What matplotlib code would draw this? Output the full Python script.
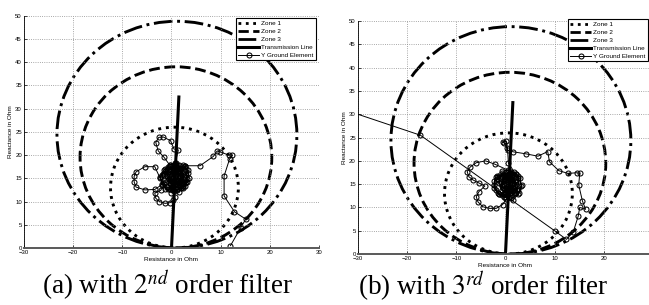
import matplotlib
matplotlib.use('Agg')
import matplotlib.pyplot as plt
from matplotlib.patches import Circle
from matplotlib.lines import Line2D

# mho zones (centre x, centre y, radius) in Ohm
zone_names = ['Zone 1', 'Zone 2', 'Zone 3']
zone_cx = [0.6, 0.9, 1.1]
zone_cy = [13.0, 19.5, 24.4]
zone_r = [13.0, 19.5, 24.4]
zone_ls = [':', '--', '-.']

# transmission line
line_r = [0.0, 1.5]
line_x = [0.0, 32.5]

# (a) 2nd order filter trajectory
traj_a_r = [12.0, 14.1, 15.1, 12.8, 10.7, 10.7, 11.8, 12.4, 11.6, 9.9, 9.3, 8.5, 5.8, 2.7,
            2.7, 3.4, 3.0, 1.9, 0.6, -0.8, -1.9, -2.3, -1.6, -0.4, 0.7,
            1.4, 0.5, -0.2, -1.7, -2.6, -3.2, -2.7, -1.5,
            -0.4, 1.0, 2.3, 3.3, 3.6, 2.8, 1.5, 0.0, -1.3, -2.3,
            -3.4, -5.4, -7.2, -7.6, -7.6, -7.2, -5.4, -3.4, -2.0,
            -1.8, -0.7, 0.7, 2.0, 3.0, 3.2, 2.4, 1.1, -0.2, -1.2, -2.2,
            -3.4, -3.2, -2.5, -1.3, -0.3, 0.4, 0.7,
            -1.4, -0.6, 0.6, 1.7, 2.5, 2.2, 1.3, 0.2, -0.6, -0.3, 0.8, 1.6, 1.2, 0.4,
            1.8, 2.6, 2.2, 1.0, -0.3, -1.0, -0.6, 0.4, 1.6, 2.4, 2.0, 0.9, -0.1,
            -0.5, 0.3, 1.3, 1.9, 1.5, 0.5, 0.0, 0.9, 1.6, 1.0, 0.2, 0.7,
            0.2, 1.4, 2.9, 3.1, 2.3, 0.8, -0.9, -1.6, -1.9, -1.1, 0.3, 1.8, 2.8,
            1.2, -0.4, 0.6, 2.1, 1.5, -0.2, 0.9, 2.6, -1.3, 0.1, 1.9, 1.1]
traj_a_x = [0.5, 4.4, 6.2, 7.8, 11.2, 15.5, 19.1, 20.0, 20.0, 20.7, 20.9, 19.7, 17.7, 17.7,
            17.6, 16.2, 14.3, 12.9, 12.3, 12.6, 13.7, 15.2, 16.8, 17.9, 18.2,
            21.1, 21.3, 23.1, 23.9, 23.8, 22.7, 20.9, 19.5,
            17.9, 18.3, 17.9, 16.8, 15.0, 13.3, 12.1, 11.9, 12.8, 15.0,
            17.5, 17.5, 16.4, 15.4, 14.2, 13.1, 12.5, 12.6, 13.6,
            16.0, 17.4, 18.0, 17.3, 15.8, 14.2, 13.0, 12.6, 13.0, 14.2, 12.4,
            11.8, 10.7, 10.0, 9.6, 9.75, 10.3, 11.0,
            15.6, 16.8, 17.2, 16.6, 15.2, 14.0, 13.5, 13.8, 14.8, 16.0, 16.4, 15.6, 14.6, 15.0,
            17.0, 15.6, 13.8, 13.2, 13.9, 15.4, 16.9, 17.6, 17.0, 15.9, 14.4, 13.8, 14.4,
            15.6, 16.6, 16.4, 15.2, 14.4, 14.2, 15.2, 16.0, 15.8, 14.8, 15.8, 15.3,
            16.3, 17.5, 16.9, 14.9, 13.4, 12.9, 13.1, 14.0, 15.8, 16.4, 17.2, 16.6, 13.9,
            12.4, 12.8, 14.1, 13.2, 17.9, 17.1, 16.9, 17.4, 17.0, 13.2, 14.6, 14.1]

# (b) 3rd order filter trajectory
traj_b_r = [-32.0, -17.3, 10.0, 12.4, 13.8, 14.8, 15.1, 16.3, 15.65, 14.9, 15.1, 14.45, 12.75,
            10.85, 8.95, 8.6, 6.6, 4.2, 1.5, 0.5, -0.2, -0.6, 0.1, 0.4, 0.6,
            1.8, 3.0, 3.2, 2.5, 1.2, -0.4, -1.6, -2.4, -2.0, -0.8, 0.6, 2.2,
            -2.2, -4.05, -5.95, -7.15, -7.8, -7.45, -6.6, -5.3, -4.2,
            -5.4, -5.95, -5.6, -4.6, -3.2, -1.9, -0.6, 0.2, 1.5,
            2.8, 3.3, 2.6, 1.0, -0.6, -1.8, -2.3, -1.4, 0.0, 1.4, 2.6, 2.0, 0.8, -0.4, -0.8, 0.4, 1.4, 0.6,
            1.4, 2.2, 1.8, 0.6, -0.7, -1.4, -1.0, 0.0, 1.2, 2.0, 1.6, 0.5, -0.5,
            -0.9, -0.1, 0.9, 1.5, 1.1, 0.1, -0.4, 0.5, 1.2, 0.6, -0.2, 0.3,
            -0.2, 1.0, 2.5, 2.7, 1.9, 0.4, -1.3, -2.0, -2.3, -1.5, -0.1, 1.4, 2.4,
            0.8, -0.8, 0.2, 1.7, 1.1, -0.6, 0.5, 2.2, -1.7, -0.3, 1.5, 0.7]
traj_b_x = [30.7, 25.5, 5.0, 3.15, 4.8, 8.15, 10.0, 9.6, 11.4, 14.8, 17.3, 17.45, 17.3,
            17.9, 19.8, 22.0, 21.0, 21.5, 21.95, 22.3, 23.8, 24.0, 24.3, 22.8, 19.5,
            17.6, 16.4, 14.6, 12.8, 12.0, 12.2, 13.2, 14.8, 16.6, 17.8, 18.0, 17.2,
            19.3, 20.0, 19.6, 18.7, 17.7, 16.6, 15.9, 15.2, 14.6,
            13.4, 12.3, 11.2, 10.15, 9.8, 9.8, 10.6, 11.8, 11.6,
            13.0, 14.8, 16.4, 17.4, 17.2, 16.0, 14.2, 12.8, 12.2, 12.6, 14.0, 15.6, 16.4, 15.8, 14.6, 13.6, 14.4, 15.0,
            16.8, 15.4, 13.6, 13.0, 13.7, 15.2, 16.7, 17.4, 16.8, 15.7, 14.2, 13.6, 14.2,
            15.4, 16.4, 16.2, 15.0, 14.2, 14.0, 15.0, 15.8, 15.6, 14.6, 15.6, 15.1,
            16.1, 17.3, 16.7, 14.7, 13.2, 12.7, 12.9, 13.8, 15.6, 16.2, 17.0, 16.4, 13.7,
            12.2, 12.6, 13.9, 13.0, 17.7, 16.9, 16.7, 17.2, 16.8, 13.0, 14.4, 13.9]

captions = ['(a) with $2^{nd}$ order filter', '(b) with $3^{rd}$ order filter']

plt.rcParams['font.family'] = ['Liberation Sans', 'DejaVu Sans']
plt.rcParams['mathtext.fontset'] = 'stix'

fig = plt.figure(figsize=(6.49, 3.05), dpi=100)
ax_a = fig.add_axes([0.037, 0.187, 0.4545, 0.7615])
ax_b = fig.add_axes([0.5516, 0.167, 0.4545, 0.764])


def draw_panel(ax, tr, tx, xticks, leg_anchor):
    for cx, cy, r, ls in zip(zone_cx, zone_cy, zone_r, zone_ls):
        ax.add_patch(Circle((cx, cy), r, fill=False, ec='black', lw=2.1, ls=ls))
    ax.plot(line_r, line_x, color='black', lw=2.2)
    ax.plot(tr, tx, color='black', lw=0.7, marker='o', ms=3.6, mfc='none', mew=0.75)
    ax.set_xlim(-30, 30)
    ax.set_ylim(0, 50)
    ax.set_xticks(xticks)
    ax.set_yticks(range(0, 51, 5))
    ax.grid(True, color='0.55', ls=':', lw=0.6)
    ax.tick_params(direction='in', length=2, width=0.5, labelsize=4.3, pad=1.5)
    ax.spines['top'].set_visible(False)
    ax.spines['right'].set_visible(False)
    ax.spines['left'].set_linewidth(0.6)
    ax.spines['bottom'].set_linewidth(1.4)
    ax.spines['bottom'].set_color('0.35')
    ax.set_xlabel('Resistance in Ohm', fontsize=4.6, labelpad=1.5)
    ax.set_ylabel('Reactance in Ohm', fontsize=4.6, labelpad=1.5)
    handles = [Line2D([], [], color='black', lw=2.0, ls=ls) for ls in zone_ls]
    handles.append(Line2D([], [], color='black', lw=2.2))
    handles.append(Line2D([], [], color='black', lw=0.7, marker='o', ms=3.6, mfc='none', mew=0.75))
    leg = ax.legend(handles, zone_names + ['Transmission Line', 'Y Ground Element'],
                    loc='upper right', bbox_to_anchor=leg_anchor, fontsize=4.6,
                    frameon=True, fancybox=False, edgecolor='black', framealpha=1,
                    borderaxespad=0, handlelength=3.2, handletextpad=0.4,
                    labelspacing=0.4, borderpad=0.35)
    leg.get_frame().set_linewidth(0.8)


draw_panel(ax_a, traj_a_r, traj_a_x, range(-30, 31, 10), (0.99, 0.99))
draw_panel(ax_b, traj_b_r, traj_b_x, range(-30, 21, 10), (0.983, 1.007))

fig.text(0.258, 0.062, captions[0], ha='center', va='center', fontsize=19.5,
         family=['Liberation Serif', 'DejaVu Serif'])
fig.text(0.744, 0.058, captions[1], ha='center', va='center', fontsize=19.5,
         family=['Liberation Serif', 'DejaVu Serif'])

fig.savefig('out.png', dpi=100)
